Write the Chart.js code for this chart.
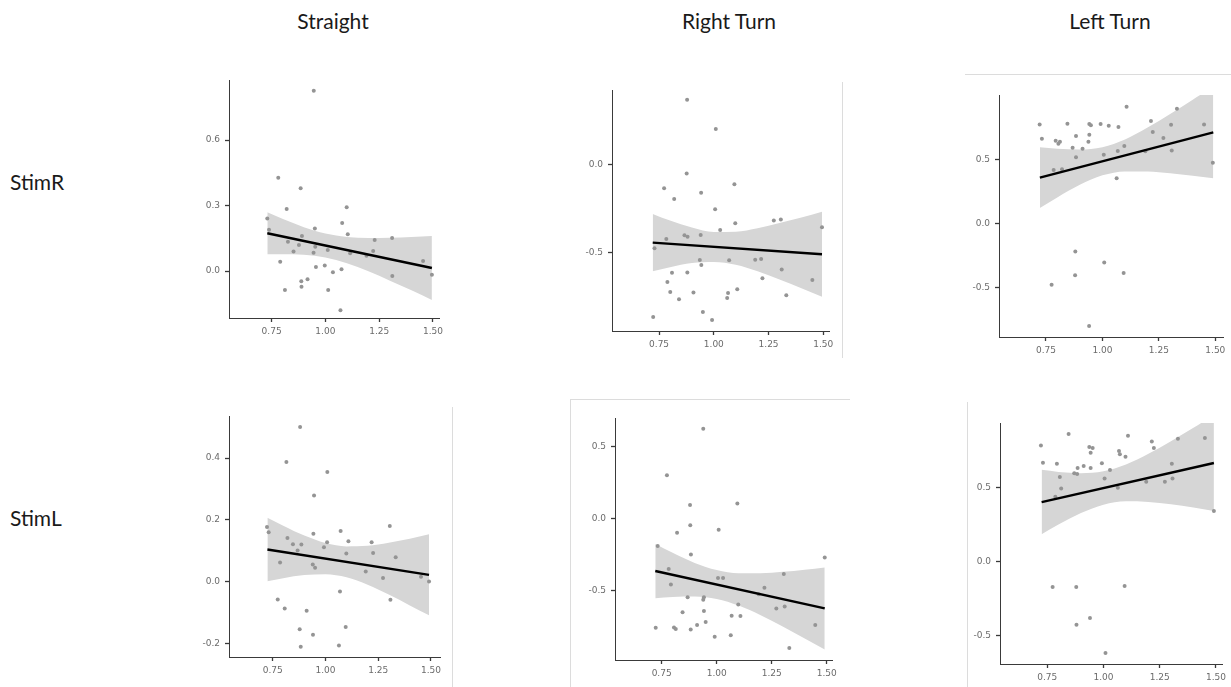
<!DOCTYPE html>
<html lang="en">
<head>
<meta charset="UTF-8">
<title>Stim x Turn regressions</title>
<script src="https://cdn.jsdelivr.net/npm/chart.js"></script>
<style>
    body { margin: 0; background: #fff; }
    #fig { position: relative; width: 1231px; height: 687px; overflow: hidden; background: #fff; }
    .lbl { position: absolute; font-family: 'Lato', sans-serif; font-size: 21px; color: #1a1a1a; white-space: nowrap; }
    .col { transform: translateX(-50%); }
    .edge { position: absolute; background: #dcdcdc; }
</style>
</head>
<body>
<div id="fig">
    <div class="lbl col" style="left:333px; top:8px">Straight</div>
    <div class="lbl col" style="left:729px; top:8px">Right Turn</div>
    <div class="lbl col" style="left:1110px; top:8px">Left Turn</div>
    <div class="lbl" style="left:10px; top:169px">StimR</div>
    <div class="lbl" style="left:10px; top:505px">StimL</div>

    <!-- faint frames left over from the pasted screenshots -->
    <div class="edge" style="left:842px; top:82px; width:1px; height:276px"></div>
    <div class="edge" style="left:965px; top:74px; width:266px; height:1px"></div>
    <div class="edge" style="left:452px; top:407px; width:1px; height:280px"></div>
    <div class="edge" style="left:570px; top:399px; width:280px; height:1px"></div>
    <div class="edge" style="left:570px; top:399px; width:1px; height:288px"></div>
    <div class="edge" style="left:967px; top:402px; width:1px; height:285px"></div>
</div>

<script>
const xTicks = [0.75, 1.00, 1.25, 1.50];

// ---- Straight / StimR
const straightR_pts = [
    [0.946, 0.826], [0.781, 0.427], [0.885, 0.379], [0.820, 0.284], [1.099, 0.292], [0.730, 0.241],
    [1.078, 0.220], [0.951, 0.195], [0.738, 0.189], [1.104, 0.169], [0.891, 0.160], [1.310, 0.151],
    [1.229, 0.142], [0.826, 0.134], [0.877, 0.119], [0.953, 0.111], [1.011, 0.096], [1.222, 0.092],
    [0.852, 0.090], [0.945, 0.084], [1.115, 0.081], [1.191, 0.070], [1.454, 0.046], [0.790, 0.043],
    [0.997, 0.026], [0.956, 0.018], [1.075, 0.008], [1.035, -0.006], [1.495, -0.017], [1.311, -0.023],
    [0.917, -0.038], [0.888, -0.047], [0.889, -0.072], [0.812, -0.087], [1.013, -0.087], [1.070, -0.179]
];
const straightR_fit = [[0.73, 0.173], [1.495, 0.014]];
const straightR_bandX = [0.73, 0.8, 0.9, 1.0, 1.1, 1.2, 1.3, 1.4, 1.495];
const straightR_upper = [0.269, 0.239, 0.201, 0.172, 0.156, 0.151, 0.152, 0.156, 0.161];
const straightR_lower = [0.077, 0.077, 0.075, 0.062, 0.036, -0.001, -0.044, -0.088, -0.133];
const straightR_yTicks = [0.0, 0.3, 0.6];

// ---- Right Turn / StimR
const rightR_pts = [
    [0.878, 0.366], [1.009, 0.201], [0.876, -0.053], [1.094, -0.114], [0.773, -0.136], [0.942, -0.161],
    [0.819, -0.197], [1.006, -0.256], [1.274, -0.320], [1.306, -0.314], [1.098, -0.335], [1.494, -0.358],
    [1.029, -0.373], [0.866, -0.403], [0.880, -0.411], [0.940, -0.402], [0.783, -0.424], [0.729, -0.477],
    [0.936, -0.544], [1.070, -0.545], [1.189, -0.542], [1.216, -0.538], [0.943, -0.572], [1.310, -0.598],
    [0.879, -0.614], [0.809, -0.616], [1.222, -0.648], [0.788, -0.669], [1.450, -0.657], [1.107, -0.710],
    [0.801, -0.725], [0.907, -0.729], [1.065, -0.731], [1.331, -0.744], [1.061, -0.760], [0.841, -0.767],
    [0.950, -0.839], [0.723, -0.867], [0.992, -0.884]
];
const rightR_fit = [[0.721, -0.445], [1.494, -0.511]];
const rightR_bandX = [0.721, 0.8, 0.9, 1.0, 1.1, 1.2, 1.3, 1.4, 1.494];
const rightR_upper = [-0.282, -0.320, -0.359, -0.384, -0.383, -0.364, -0.334, -0.302, -0.269];
const rightR_lower = [-0.608, -0.585, -0.561, -0.555, -0.571, -0.608, -0.654, -0.704, -0.753];
const rightR_yTicks = [-0.5, 0.0];

// ---- Left Turn / StimR
const leftR_pts = [
    [1.107, 0.911], [1.330, 0.896], [0.722, 0.773], [0.845, 0.779], [0.942, 0.776], [0.949, 0.766],
    [0.992, 0.776], [1.028, 0.763], [1.071, 0.753], [1.304, 0.771], [1.450, 0.773], [1.215, 0.799],
    [0.732, 0.661], [0.793, 0.646], [0.812, 0.638], [0.805, 0.622], [0.883, 0.682], [0.942, 0.693],
    [1.223, 0.714], [0.938, 0.638], [1.270, 0.667], [0.868, 0.591], [0.912, 0.583], [1.097, 0.604],
    [1.068, 0.565], [1.307, 0.570], [1.190, 0.563], [0.883, 0.516], [1.006, 0.536], [0.784, 0.417],
    [0.821, 0.422], [1.063, 0.352], [1.489, 0.474], [0.880, -0.219], [1.008, -0.305], [1.094, -0.388],
    [0.879, -0.406], [0.775, -0.479], [0.941, -0.802]
];
const leftR_fit = [[0.723, 0.357], [1.491, 0.711]];
const leftR_bandX = [0.723, 0.8, 0.9, 1.0, 1.1, 1.2, 1.3, 1.4, 1.491];
const leftR_upper = [0.595, 0.583, 0.577, 0.595, 0.656, 0.749, 0.855, 0.966, 1.070];
const leftR_lower = [0.120, 0.203, 0.302, 0.375, 0.406, 0.405, 0.391, 0.372, 0.352];
const leftR_yTicks = [-0.5, 0.0, 0.5];

// ---- Straight / StimL
const straightL_pts = [
    [0.880, 0.500], [0.815, 0.387], [1.009, 0.355], [0.946, 0.279], [0.723, 0.177], [0.731, 0.160],
    [1.305, 0.180], [0.820, 0.141], [0.943, 0.155], [1.072, 0.164], [1.109, 0.131], [0.846, 0.121],
    [0.868, 0.101], [0.886, 0.120], [0.993, 0.111], [1.008, 0.127], [1.219, 0.127], [1.226, 0.093],
    [1.099, 0.091], [1.333, 0.079], [0.785, 0.062], [0.940, 0.055], [0.951, 0.045], [1.191, 0.033],
    [1.273, 0.012], [1.453, 0.016], [1.491, 0.000], [1.069, -0.032], [0.774, -0.058], [1.308, -0.059],
    [0.807, -0.087], [0.911, -0.094], [1.096, -0.147], [0.878, -0.154], [0.941, -0.172], [1.064, -0.207],
    [0.883, -0.211]
];
const straightL_fit = [[0.725, 0.104], [1.491, 0.0216]];
const straightL_bandX = [0.725, 0.8, 0.9, 1.0, 1.1, 1.2, 1.3, 1.4, 1.491];
const straightL_upper = [0.207, 0.181, 0.149, 0.125, 0.114, 0.116, 0.126, 0.139, 0.153];
const straightL_lower = [0.001, 0.011, 0.021, 0.024, 0.014, -0.010, -0.042, -0.077, -0.109];
const straightL_yTicks = [-0.2, 0.0, 0.2, 0.4];

// ---- Right Turn / StimL
const rightL_pts = [
    [0.939, 0.625], [0.774, 0.301], [0.879, 0.095], [1.094, 0.106], [0.880, -0.046], [1.009, -0.076],
    [0.820, -0.097], [0.732, -0.190], [0.883, -0.248], [1.491, -0.269], [0.782, -0.350], [1.305, -0.384],
    [1.006, -0.412], [1.029, -0.412], [0.792, -0.456], [1.217, -0.479], [1.191, -0.525], [0.868, -0.546],
    [0.942, -0.546], [0.939, -0.563], [1.098, -0.595], [1.309, -0.609], [1.271, -0.623], [0.845, -0.650],
    [0.942, -0.641], [1.068, -0.674], [1.108, -0.676], [0.950, -0.718], [0.911, -0.738], [1.448, -0.738],
    [0.723, -0.757], [0.806, -0.755], [0.814, -0.766], [0.882, -0.769], [1.064, -0.810], [0.991, -0.819],
    [1.330, -0.898]
];
const rightL_fit = [[0.721, -0.363], [1.491, -0.623]];
const rightL_bandX = [0.721, 0.8, 0.9, 1.0, 1.1, 1.2, 1.3, 1.4, 1.491];
const rightL_upper = [-0.175, -0.237, -0.307, -0.357, -0.379, -0.379, -0.369, -0.354, -0.338];
const rightL_lower = [-0.552, -0.543, -0.540, -0.557, -0.603, -0.670, -0.748, -0.831, -0.908];
const rightL_yTicks = [-0.5, 0.0, 0.5];

// ---- Left Turn / StimL
const leftL_pts = [
    [0.845, 0.861], [1.109, 0.849], [1.331, 0.829], [1.451, 0.834], [1.215, 0.811], [0.722, 0.784],
    [0.937, 0.773], [0.952, 0.766], [1.224, 0.766], [0.943, 0.735], [1.069, 0.746], [1.073, 0.724],
    [1.098, 0.708], [0.731, 0.667], [0.793, 0.661], [0.993, 0.663], [1.304, 0.661], [0.912, 0.645],
    [0.885, 0.631], [0.943, 0.631], [1.029, 0.618], [0.870, 0.596], [0.883, 0.591], [0.806, 0.571],
    [1.005, 0.560], [1.307, 0.560], [0.812, 0.494], [1.064, 0.499], [1.190, 0.539], [1.273, 0.539],
    [0.786, 0.438], [1.491, 0.342], [0.774, -0.171], [0.879, -0.171], [1.094, -0.164], [0.940, -0.380],
    [0.880, -0.425], [1.009, -0.616]
];
const leftL_fit = [[0.725, 0.402], [1.491, 0.665]];
const leftL_bandX = [0.725, 0.8, 0.9, 1.0, 1.1, 1.2, 1.3, 1.4, 1.491];
const leftL_upper = [0.619, 0.605, 0.597, 0.609, 0.655, 0.727, 0.812, 0.903, 0.988];
const leftL_lower = [0.185, 0.250, 0.328, 0.384, 0.407, 0.403, 0.387, 0.365, 0.342];
const leftL_yTicks = [-0.5, 0.0, 0.5];

// panel placement: L/T/B/R are the axis lines in page pixels, plus axis ranges
const panels = [
    { L: 229, T: 80, B: 318, R: 439, xMin: 0.552, xMax: 1.528, yMin: -0.215, yMax: 0.875,
      pts: straightR_pts, fit: straightR_fit, bx: straightR_bandX, up: straightR_upper, lo: straightR_lower, yt: straightR_yTicks },
    { L: 612, T: 90, B: 331, R: 829, xMin: 0.535, xMax: 1.526, yMin: -0.947, yMax: 0.422,
      pts: rightR_pts, fit: rightR_fit, bx: rightR_bandX, up: rightR_upper, lo: rightR_lower, yt: rightR_yTicks },
    { L: 999, T: 95, B: 337, R: 1223, xMin: 0.542, xMax: 1.534, yMin: -0.888, yMax: 1.003,
      pts: leftR_pts, fit: leftR_fit, bx: leftR_bandX, up: leftR_upper, lo: leftR_lower, yt: leftR_yTicks },
    { L: 229, T: 416, B: 657, R: 440, xMin: 0.543, xMax: 1.543, yMin: -0.244, yMax: 0.536,
      pts: straightL_pts, fit: straightL_fit, bx: straightL_bandX, up: straightL_upper, lo: straightL_lower, yt: straightL_yTicks },
    { L: 615, T: 418, B: 660, R: 832, xMin: 0.538, xMax: 1.524, yMin: -0.981, yMax: 0.699,
      pts: rightL_pts, fit: rightL_fit, bx: rightL_bandX, up: rightL_upper, lo: rightL_lower, yt: rightL_yTicks },
    { L: 1000, T: 423, B: 664, R: 1222, xMin: 0.540, xMax: 1.527, yMin: -0.690, yMax: 0.935,
      pts: leftL_pts, fit: leftL_fit, bx: leftL_bandX, up: leftL_upper, lo: leftL_lower, yt: leftL_yTicks }
];

const YW = 40, PT = 6, PR = 6, XH = 30;
const axisColor = '#3a3a3a';
const tickFont = { family: 'DejaVu Sans', size: 9 };

panels.forEach(drawPanel);

function drawPanel(p) {
    const w = p.R - p.L + YW + PR;
    const h = p.B - p.T + PT + XH;
    const cv = document.createElement('canvas');
    cv.width = w;
    cv.height = h;
    cv.style.cssText = `position:absolute;left:${p.L - YW}px;top:${p.T - PT}px;width:${w}px;height:${h}px`;
    document.getElementById('fig').appendChild(cv);

    const xy = arr => arr.map(([x, y]) => ({ x: x, y: y }));

    new Chart(cv, {
        type: 'scatter',
        data: {
            datasets: [
                {   // fitted line
                    type: 'line',
                    data: xy(p.fit),
                    borderColor: '#000',
                    borderWidth: 2.4,
                    pointRadius: 0,
                    fill: false,
                    order: 0
                },
                {   // observations
                    data: xy(p.pts),
                    backgroundColor: '#949494',
                    borderWidth: 0,
                    pointRadius: 2,
                    order: 1
                },
                {   // 95% band, upper edge
                    type: 'line',
                    data: p.bx.map((x, i) => ({ x: x, y: p.up[i] })),
                    borderWidth: 0,
                    pointRadius: 0,
                    backgroundColor: '#d6d6d6',
                    fill: '+1',
                    cubicInterpolationMode: 'monotone',
                    order: 2
                },
                {   // lower edge
                    type: 'line',
                    data: p.bx.map((x, i) => ({ x: x, y: p.lo[i] })),
                    borderWidth: 0,
                    pointRadius: 0,
                    fill: false,
                    cubicInterpolationMode: 'monotone',
                    order: 3
                }
            ]
        },
        options: {
            responsive: false,
            animation: false,
            events: [],
            layout: { padding: { top: PT, right: PR, left: 0, bottom: 0 }, autoPadding: false },
            plugins: { legend: { display: false }, tooltip: { enabled: false } },
            scales: {
                x: {
                    type: 'linear',
                    min: p.xMin,
                    max: p.xMax,
                    afterBuildTicks: s => { s.ticks = xTicks.map(v => ({ value: v })); },
                    afterFit: s => { s.height = XH; s.paddingLeft = 0; s.paddingRight = 0; },
                    grid: { display: true, drawOnChartArea: false, drawTicks: true, tickLength: 4, color: axisColor, tickWidth: 1.3 },
                    border: { display: true, color: axisColor, width: 1 },
                    ticks: { color: '#6b6b6b', font: tickFont, padding: 4, maxRotation: 0, autoSkip: false,
                             callback: v => v.toFixed(2) }
                },
                y: {
                    type: 'linear',
                    min: p.yMin,
                    max: p.yMax,
                    afterBuildTicks: s => { s.ticks = p.yt.map(v => ({ value: v })); },
                    afterFit: s => { s.width = YW; s.paddingTop = 0; s.paddingBottom = 0; },
                    grid: { display: true, drawOnChartArea: false, drawTicks: true, tickLength: 4, color: axisColor, tickWidth: 1.3 },
                    border: { display: true, color: axisColor, width: 1 },
                    ticks: { color: '#6b6b6b', font: tickFont, padding: 5, autoSkip: false,
                             callback: v => v.toFixed(1) }
                }
            }
        }
    });
}
</script>
</body>
</html>
